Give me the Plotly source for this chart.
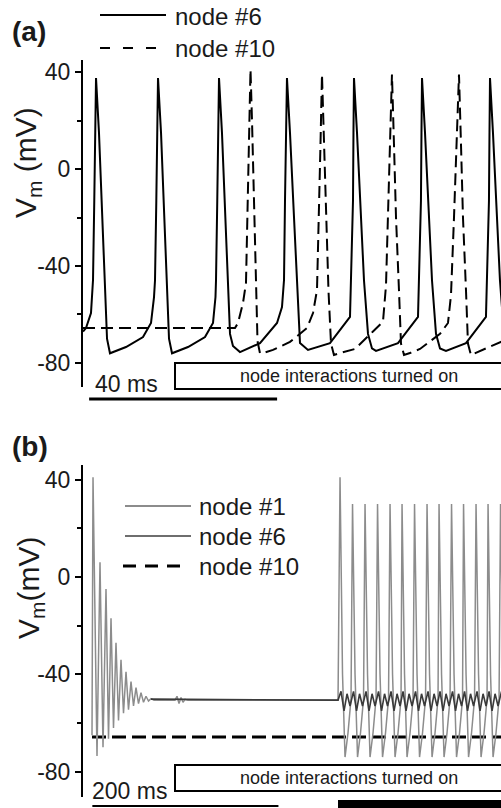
import plotly.graph_objects as go

W, H = 501, 808
FONT = "Liberation Sans, Arial, sans-serif"
TXT = "#1a1a1a"

# ---- panel (a): time (ms) / membrane potential (mV) ----
a_node6_t = [0, 0.64, 1.70, 2.13, 2.40, 2.55, 2.77, 3.40, 3.98, 4.68, 5.11, 5.74,
             9.15, 12.77, 14.47, 15.11, 15.32, 15.60, 15.74, 15.96, 16.60, 17.17,
             17.87, 18.30, 18.94, 22.34, 25.96, 27.66, 28.19, 28.30, 28.57, 28.72,
             28.94, 29.57, 30.15, 30.85, 31.28, 31.91, 33.40, 37.66, 41.28, 42.34,
             42.77, 42.98, 43.19, 43.40, 44.04, 44.68, 45.53, 46.17, 47.87, 52.55,
             56.81, 57.02, 57.45, 57.55, 57.66, 58.30, 58.94, 59.79, 60.64, 61.49,
             62.34, 67.02, 71.28, 71.49, 71.91, 72.02, 72.13, 72.77, 73.40, 74.26,
             75.11, 75.96, 77.23, 81.49, 85.74, 85.96, 86.38, 86.49, 86.60, 87.23,
             87.87, 88.72, 89.57, 90.43]
a_node6_v = [-67, -65.6, -59.4, -45.8, -13, 15, 37.5, 15, -13, -51, -70, -76,
             -73.4, -69.3, -63.5, -52.8, -46, -13, 15, 37.5, 15, -13,
             -51, -70, -76, -73.4, -69.3, -63.5, -52.8, -46, -13, 15,
             37.5, 15, -13, -51, -68, -73, -75.5, -71.8, -63.5, -56.9,
             -45.8, -13, 15, 37.5, 15, -13, -46, -71.8, -74.6, -71.8,
             -61, -46, -13, 15, 37.5, 15, -13, -46, -68, -74,
             -75, -71.8, -61, -46, -13, 15, 37.5, 15, -13, -46,
             -68, -74, -75, -71.8, -61, -46, -13, 15, 37.5, 15,
             -13, -46, -68, -74]

a_node10_t = [0, 32.34, 32.98, 34.04, 34.68, 35.11, 35.43, 35.64, 35.96, 36.38,
              36.91, 37.13, 37.66, 38.30, 40.43, 44.04, 47.66, 48.94, 49.79, 50.21,
              50.53, 50.85, 51.28, 51.70, 52.23, 52.77, 53.40, 54.68, 57.87, 61.70,
              63.83, 64.47, 64.89, 65.32, 65.74, 66.17, 66.60, 67.23, 67.66, 68.30,
              69.57, 71.70, 75.96, 77.66, 78.30, 78.94, 79.47, 80.00, 80.43, 80.85,
              81.49, 81.91, 82.55, 84.47, 88.94, 90.43]
a_node10_v = [-65.6, -65.6, -63.5, -55.3, -47, -10, 20, 41, 20, -10,
              -47, -71, -76, -75.9, -74.6, -71.3, -65.6, -59.4, -49.9, -20,
              10, 39, 10, -20, -50, -72, -76.7, -75.9, -74.2, -67,
              -63, -48, -20, 10, 39, 10, -20, -50, -72, -76.7,
              -75.9, -74.2, -68, -63.5, -52, -20, 10, 39, 10, -20,
              -50, -72, -76.7, -75, -71, -70]

# ---- panel (b) ----
b_node1_t = [9.63, 10.70, 14.97, 18.18, 21.39, 24.60, 27.27, 29.95, 32.62, 35.29,
             37.97, 40.64, 43.31, 45.99, 48.66, 51.34, 54.01, 56.68, 59.36, 62.03,
             64.71, 67.38, 70.05, 72.73, 75.93, 98.39, 100.53, 102.67, 104.81, 106.95,
             109.09, 112.30, 272.72,
             274.86, 277.53, 280.21, 283.42, 286.62,
             288.23, 290.90, 293.58, 296.79, 299.99,
             301.60, 304.27, 306.95, 310.16, 313.36,
             314.97, 317.64, 320.32, 323.53, 326.73,
             328.34, 331.01, 333.69, 336.90, 340.10,
             341.17, 343.84, 346.52, 349.73, 352.93,
             354.54, 357.21, 359.89, 363.10, 366.30,
             367.91, 370.58, 373.26, 376.47, 379.67,
             380.74, 383.41, 386.09, 389.30, 392.50,
             394.11, 396.78, 399.46, 402.67, 405.87,
             406.95, 409.62, 412.30, 415.51, 418.71,
             420.31, 422.98, 425.66, 428.87, 432.07,
             433.15, 435.82, 438.50, 441.71, 444.91,
             446.52, 449.19, 451.87]
b_node1_v = [-65, 41, -73.5, 6, -70, -5, -66.5, -17, -62, -27,
             -59, -34, -56, -39, -54.5, -43, -53, -45.5, -52, -47.5,
             -51.5, -49, -51, -50, -50.6, -50.6, -49, -52, -49.5, -51.5,
             -50.3, -50.6, -50.6,
             41, -40, -74, -64, -50,
             30, -40, -74, -64, -50,
             30, -40, -74, -64, -50,
             30, -40, -74, -64, -50,
             30, -40, -74, -64, -50,
             30, -40, -74, -64, -50,
             30, -40, -74, -64, -50,
             30, -40, -74, -64, -50,
             30, -40, -74, -64, -50,
             30, -40, -74, -64, -50,
             30, -40, -74, -64, -50,
             30, -40, -74, -64, -50,
             30, -40, -74, -64, -50,
             30, -40, -74]

b_node6_t = [72.73, 272.72,
             275.93, 279.14, 282.35, 285.56, 289.30, 292.51, 295.72, 298.93,
             302.67, 305.88, 309.09, 312.30, 316.04, 319.25, 322.46, 325.67,
             329.41, 332.62, 335.83, 339.04, 342.24, 345.45, 348.66, 351.87,
             355.61, 358.82, 362.03, 365.24, 368.98, 372.19, 375.40, 378.61,
             381.81, 385.02, 388.23, 391.44, 395.18, 398.39, 401.60, 404.81,
             408.02, 411.23, 414.44, 417.65, 421.38, 424.59, 427.80, 431.01,
             434.22, 437.43, 440.64, 443.85, 447.59]
b_node6_v = [-50.2, -50.6,
             -47, -55, -48, -53, -47, -55, -48, -53,
             -47, -55, -48, -53, -47, -55, -48, -53,
             -47, -55, -48, -53, -47, -55, -48, -53,
             -47, -55, -48, -53, -47, -55, -48, -53,
             -47, -55, -48, -53, -47, -55, -48, -53,
             -47, -55, -48, -53, -47, -55, -48, -53,
             -47, -55, -48, -53, -47]

b_node10_t = [9.63, 460]
b_node10_v = [-65.8, -65.8]

tick_vals = [-80, -40, 0, 40]
tick_text = ["-80", "-40", "0", "40"]
minor_vals = [-60, -20, 20]


def px(x):
    return x / W


def py(y):
    return 1 - y / H


fig = go.Figure()
fig.add_trace(go.Scatter(x=a_node10_t, y=a_node10_v, mode="lines",
                         line=dict(color="black", width=2, dash="12px,6px"),
                         xaxis="x", yaxis="y", showlegend=False))
fig.add_trace(go.Scatter(x=a_node6_t, y=a_node6_v, mode="lines",
                         line=dict(color="black", width=2),
                         xaxis="x", yaxis="y", showlegend=False))
fig.add_trace(go.Scatter(x=b_node10_t, y=b_node10_v, mode="lines",
                         line=dict(color="black", width=3, dash="14px,6px"),
                         xaxis="x2", yaxis="y2", showlegend=False))
fig.add_trace(go.Scatter(x=b_node1_t, y=b_node1_v, mode="lines",
                         line=dict(color="#8c8c8c", width=1.5),
                         xaxis="x2", yaxis="y2", showlegend=False))
fig.add_trace(go.Scatter(x=b_node6_t, y=b_node6_v, mode="lines",
                         line=dict(color="#3a3a3a", width=1.6),
                         xaxis="x2", yaxis="y2", showlegend=False))


def yaxis(rng, dom, anchor):
    return dict(range=rng, domain=dom, anchor=anchor,
                tickvals=tick_vals, ticktext=tick_text,
                ticks="outside", ticklen=6, tickwidth=2, tickcolor="black",
                showline=True, linewidth=2, linecolor="black",
                showgrid=False, zeroline=False,
                tickfont=dict(family=FONT, size=23, color=TXT),
                minor=dict(tickvals=minor_vals, ticks="outside", ticklen=4,
                           tickwidth=2, tickcolor="black"))


fig.update_layout(
    width=W, height=H, autosize=False,
    margin=dict(l=0, r=0, t=0, b=0, pad=0),
    paper_bgcolor="white", plot_bgcolor="white",
    xaxis=dict(domain=[px(83), 1], range=[0, 88.94], visible=False, anchor="y"),
    yaxis=yaxis([-89.9, 44.95], [py(387), py(60)], "x"),
    xaxis2=dict(domain=[px(83), 1], range=[0, 447], visible=False, anchor="y2"),
    yaxis2=yaxis([-90.4, 46.0], [py(797), py(465)], "x2"),
)


def note(text, x, y, size, bold=False, xanchor="center", angle=0):
    if bold:
        text = "<b>" + text + "</b>"
    fig.add_annotation(text=text, x=px(x), y=py(y), xref="paper", yref="paper",
                       xanchor=xanchor, yanchor="middle", showarrow=False,
                       textangle=angle, font=dict(family=FONT, size=size, color=TXT))


def hline(x0, x1, y, color="black", width=2, dash="solid"):
    fig.add_shape(type="line", xref="paper", yref="paper",
                  x0=px(x0), x1=px(x1), y0=py(y), y1=py(y),
                  line=dict(color=color, width=width, dash=dash))


def box(x0, x1, y0, y1, fill="rgba(0,0,0,0)", width=2):
    fig.add_shape(type="rect", xref="paper", yref="paper",
                  x0=px(x0), x1=px(x1), y0=py(y1), y1=py(y0),
                  line=dict(color="black", width=width), fillcolor=fill)


# panel (a) decorations
note("(a)", 10, 31, 28, bold=True, xanchor="left")
hline(100, 166, 15)
hline(100, 157, 48, dash="10px,13px")
note("node #6", 173, 16, 24, xanchor="left")
note("node #10", 173, 48, 24, xanchor="left")
note("V<sub>m</sub> (mV)", 27, 163, 30, angle=-90)
box(175, 520, 363, 389)
note("node interactions turned on", 349, 376, 18)
note("40 ms", 93, 384, 23, xanchor="left")
fig.add_shape(type="line", xref="x", yref="paper", x0=1.3, x1=41.3,
              y0=py(399), y1=py(399), line=dict(color="black", width=3))

# panel (b) decorations
note("(b)", 10, 446, 28, bold=True, xanchor="left")
hline(125, 191, 506, color="#8c8c8c", width=2)
hline(125, 191, 536, color="#6e6e6e", width=2)
hline(123, 181, 566, width=3, dash="13px,9px")
note("node #1", 197, 506, 24, xanchor="left")
note("node #6", 197, 536, 24, xanchor="left")
note("node #10", 197, 566, 24, xanchor="left")
note("V<sub>m</sub>(mV)", 30, 588, 30, angle=-90)
box(175, 520, 765, 791)
note("node interactions turned on", 349, 778, 18)
note("200 ms", 90, 791, 23, xanchor="left")
fig.add_shape(type="line", xref="x2", yref="paper", x0=10, x1=209,
              y0=py(806), y1=py(806), line=dict(color="black", width=2))
box(338, 520, 800, 815, fill="black", width=0)

fig.write_html("out.html", config={"displayModeBar": False},
               post_script="document.body.style.margin='0';")
